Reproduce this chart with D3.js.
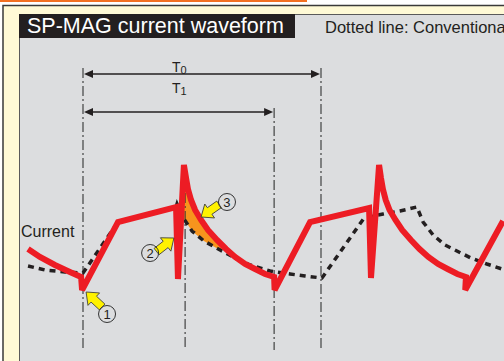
<!DOCTYPE html>
<html><head><meta charset="utf-8">
<script src="https://cdn.jsdelivr.net/npm/d3@7/dist/d3.min.js"></script>
<style>html,body{margin:0;padding:0;background:#fff;}svg{display:block;font-family:"Liberation Sans",Arial,Helvetica,sans-serif;}</style>
</head><body>
<script>
// time in units where T0 = 100; current in arbitrary units (0..100)
const T0 = 100, T1 = 80.3, spikeT = 42.9;
const markerTimes = [0, spikeT, T1, T0];

// SP-MAG current (solid red)
const spTime = [-23.1,-18.1,-11.8,-5.5,-0.8,-0.4,14.7,39.1,39.9,42.4,
  43.3,44.1,45.4,47.1,49.6,52.5,56.3,60.1,63.9,68.1,72.3,76.5,80.3,80.5,
  95.4,120.2,121.0,124.4,
  125.2,126.0,127.2,128.8,131.3,134.1,137.8,141.4,145.1,149.2,153.2,157.3,160.9,160.6,176.5];
const spCurrent = [32.8,26.4,20.0,14.4,10.4,0,54.4,66.4,8.8,100,
  89.6,80.8,72,64,56,48,40,32.8,26.4,20.8,16.8,12.8,10.4,0,
  54.4,65.6,9.6,100,
  89.6,80.8,72,64,56,48,40,32.8,26.4,20.8,16.8,12.8,10.4,0,55.2];

// Conventional current (dotted)
const convTime = [-23.1,-16.0,-7.6,0,14.7,39.1,39.5,41.6,45.8,50.8,57.6,63.9,70.2,78.6,87.0,93.3,100.4,
  118.1,126.1,133.2,140.3,142.9,147.1,152.1,157.1,163.0,169.7,177.3];
const convCurrent = [19.2,16,14.4,13.6,54.4,66.4,68.8,59.2,47.2,39.2,32,25.6,20,15.2,12.8,11.2,9.6,
  57.6,60.8,63.2,66.4,54.4,44,36,31.2,25.6,20.8,16];

// Callouts: number, tip (time, current), arrow angle (deg), circle (time, current)
const calloutNums = ["1","2","3"];
const calloutTip = [[1.3,-1.6],[38.2,41.6],[49.6,58.4]];
const calloutAngle = [-137,-38,145];
const calloutCircle = [[10.1,-19.2],[28.2,29.6],[60.5,70.4]];

const titleText = "SP-MAG current waveform";
const legendText = "Dotted line: Conventional";
const yLabel = "Current";

const W = 504, H = 361;
const svg = d3.select("body").append("svg").attr("width", W).attr("height", H);

const x = d3.scaleLinear().domain([0, T0]).range([83, 321]);
const y = d3.scaleLinear().domain([0, 100]).range([290, 165]);

// frame
svg.append("rect").attr("x",0).attr("y",0).attr("width",307).attr("height",2).attr("fill","#f37021");
svg.append("rect").attr("x",3).attr("y",5.5).attr("width",520).attr("height",370)
  .attr("fill","#fffad6").attr("stroke","#3a3a3a").attr("stroke-width",1.5);
svg.append("rect").attr("x",19.5).attr("y",14.5).attr("width",500).attr("height",370)
  .attr("fill","#dcdddf").attr("stroke","#5a5a5a").attr("stroke-width",1);
svg.append("rect").attr("x",19).attr("y",14).attr("width",276).attr("height",24).attr("fill","#231f20");
svg.append("text").attr("x",27).attr("y",33).attr("font-size",21.5).attr("fill","#fff").text(titleText);
svg.append("text").attr("x",325).attr("y",33).attr("font-size",16.5).attr("fill","#231f20").text(legendText);

const sp = spTime.map((t,i)=>[t, spCurrent[i]]);
const conv = convTime.map((t,i)=>[t, convCurrent[i]]);

// highlighted region (3): between red decay and dotted after the spike
const upperEdge = sp.filter(d=>d[0]>=42.4 && d[0]<=60.1);
const lowerEdge = conv.filter(d=>d[0]>=41.6 && d[0]<=57.6).reverse();
const poly = upperEdge.concat(lowerEdge);
svg.append("path").attr("d", d3.line().x(d=>x(d[0])).y(d=>y(d[1]))(poly)+"Z")
  .attr("fill","#f7941d");

// dash-dot vertical markers
const vTop = [68, 175, 108, 68];
markerTimes.forEach((t,i)=>{
  svg.append("line").attr("x1",x(t)).attr("x2",x(t)).attr("y1",vTop[i]).attr("y2",350)
    .attr("stroke","#333").attr("stroke-width",1.1).attr("stroke-dasharray","10,3,2,3");
});

// period arrows
function dimArrow(t1, yy){
  const x1 = x(0), x2 = x(t1);
  svg.append("line").attr("x1",x1+6).attr("x2",x2-6).attr("y1",yy).attr("y2",yy)
    .attr("stroke","#231f20").attr("stroke-width",1.6);
  svg.append("path").attr("d",`M${x1+1},${yy} L${x1+10},${yy-4} L${x1+10},${yy+4}Z`).attr("fill","#231f20");
  svg.append("path").attr("d",`M${x2-1},${yy} L${x2-10},${yy-4} L${x2-10},${yy+4}Z`).attr("fill","#231f20");
}
dimArrow(T0, 74);
dimArrow(T1, 112);
const t0 = svg.append("text").attr("x",172).attr("y",72).attr("font-size",14).attr("fill","#231f20");
t0.append("tspan").text("T"); t0.append("tspan").attr("font-size",11).attr("dy",1.5).text("0");
const t1 = svg.append("text").attr("x",172).attr("y",93).attr("font-size",14).attr("fill","#231f20");
t1.append("tspan").text("T"); t1.append("tspan").attr("font-size",11).attr("dy",1.5).text("1");

const line = d3.line().x(d=>x(d[0])).y(d=>y(d[1]));
svg.append("path").attr("d", line(conv)).attr("fill","none").attr("stroke","#231f20")
  .attr("stroke-width",3.5).attr("stroke-dasharray","6,5");
svg.append("path").attr("d", line(sp)).attr("fill","none").attr("stroke","#ed1c24")
  .attr("stroke-width",6).attr("stroke-linejoin","miter").attr("stroke-miterlimit",3);

svg.append("text").attr("x",21).attr("y",237).attr("font-size",16).attr("fill","#231f20").text(yLabel);

// callouts
calloutNums.forEach((n,i)=>{
  const [tt,cc] = calloutTip[i];
  svg.append("path").attr("d","M0,0 L-10.5,-8.5 L-10.5,-4 L-22,-4 L-22,4 L-10.5,4 L-10.5,8.5Z")
    .attr("transform",`translate(${x(tt)},${y(cc)}) rotate(${calloutAngle[i]})`)
    .attr("fill","#fff200").attr("stroke","#3a3a3a").attr("stroke-width",0.8);
  const [ct,cv] = calloutCircle[i];
  svg.append("circle").attr("cx",x(ct)).attr("cy",y(cv)).attr("r",8.5)
    .attr("fill","none").attr("stroke","#333").attr("stroke-width",1);
  svg.append("text").attr("x",x(ct)).attr("y",y(cv)+4.8).attr("text-anchor","middle")
    .attr("font-size",13).attr("fill","#231f20").text(n);
});
</script>
</body></html>
